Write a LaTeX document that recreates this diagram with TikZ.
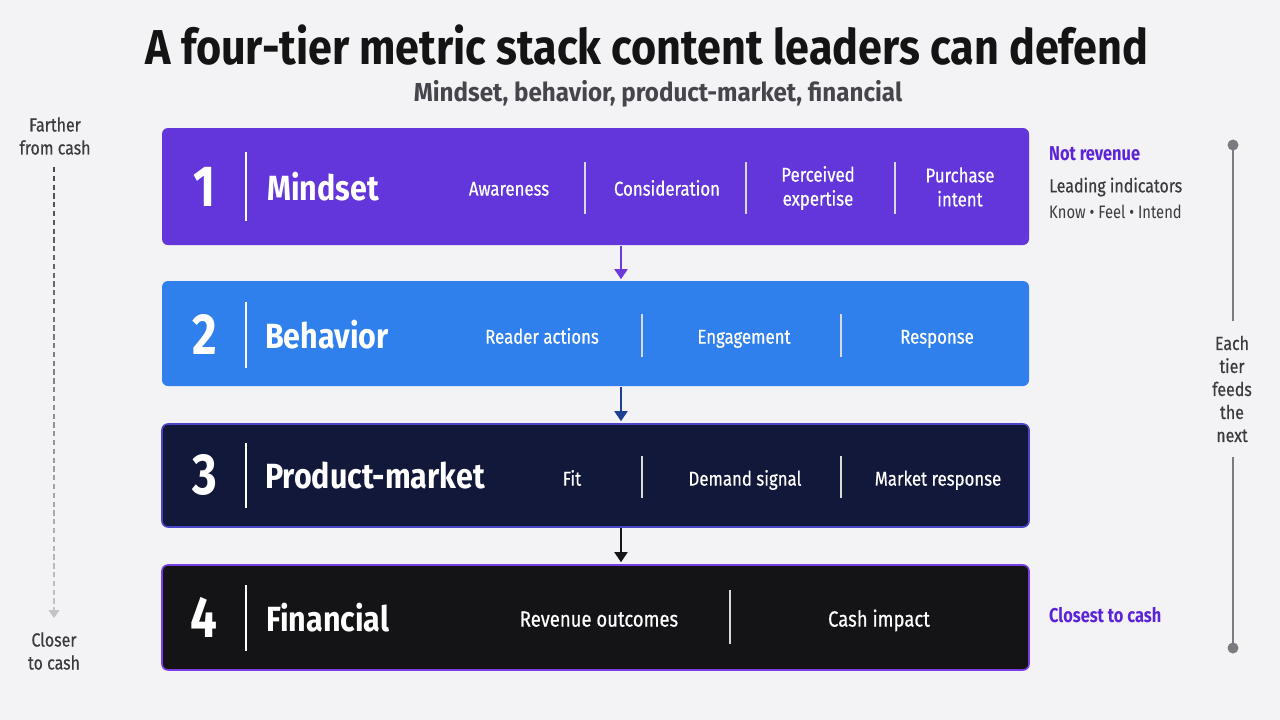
\documentclass[tikz,border=0pt]{standalone}
\usepackage{fontspec}
\setmainfont{Fira Sans}[FakeStretch=0.82]
\newfontfamily\titlefont{Fira Sans}[FakeStretch=0.88]
\newfontfamily\subfont{Fira Sans}[FakeStretch=0.93]
\newfontfamily\namefont{Fira Sans}[FakeStretch=0.87]
\newfontfamily\medfont{Fira Sans}[FakeStretch=0.84, FakeBold=0.5]
\usetikzlibrary{arrows.meta,calc}
\definecolor{bg}{HTML}{F3F3F6}
\definecolor{purp}{HTML}{6236DA}
\definecolor{blu}{HTML}{2F7FEC}
\definecolor{navy}{HTML}{12183A}
\definecolor{navyb}{HTML}{4A44C8}
\definecolor{blk}{HTML}{141416}
\definecolor{blkb}{HTML}{7A3EE6}
\definecolor{arrA}{HTML}{6B3BDC}
\definecolor{arrB}{HTML}{1E3F94}
\definecolor{arrC}{HTML}{15151A}
\definecolor{accent}{HTML}{5B24D8}
\definecolor{txt}{HTML}{3A3A3F}
\definecolor{subt}{HTML}{45454B}
\definecolor{tl}{HTML}{7A7A80}
\definecolor{dashdark}{HTML}{48484D}
\definecolor{dashlight}{HTML}{C4C4C8}
\tikzset{
  tier/.style={rounded corners=6pt, minimum width=867pt, inner sep=0pt, line width=1.6pt},
  num/.style={text=white, font=\bfseries\fontsize{58}{58}\selectfont, inner sep=0pt},
  tname/.style={text=white, font=\namefont\bfseries\fontsize{35}{35}\selectfont, anchor=west, inner sep=0pt},
  item/.style={text=white, font=\medfont\fontsize{20}{24}\selectfont, align=center, inner sep=0pt},
  sitem/.style={item, anchor=mid},
  bigdiv/.style={draw=white, line width=1.4pt},
  smalldiv/.style={draw=white!85!black, line width=1.3pt},
  flow/.style={line width=1.8pt, -{Triangle[length=10pt,width=13pt]}},
  side/.style={font=\medfont\fontsize{19}{22}\selectfont, text=txt, anchor=west, inner sep=0pt},
  sideacc/.style={font=\bfseries\fontsize{20}{22}\selectfont, text=accent, anchor=west, inner sep=0pt},
  cashlab/.style={font=\medfont\fontsize{19}{23}\selectfont, text=txt, align=center, inner sep=0pt},
  tldot/.style={circle, fill=tl, minimum size=11pt, inner sep=0pt},
}
\begin{document}
\begin{tikzpicture}[x=1pt,y=-1pt]
\fill[bg] (0,0) rectangle (1280,720);
\useasboundingbox (0,0) rectangle (1280,720);

% titles
\node[font=\titlefont\bfseries\fontsize{49}{49}\selectfont, text=black!92] (title) at (647,45) {A four-tier metric stack content leaders can defend};
\node[font=\subfont\bfseries\fontsize{26}{26}\selectfont, text=subt] (sub) at (658,94) {Mindset, behavior, product-market, financial};

% tiers
\node[tier, fill=purp, minimum height=117pt] (t1) at (595.5,186.5) {};
\node[tier, fill=blu, minimum height=105pt] (t2) at (595.5,333.5) {};
\node[tier, fill=navy, draw=navyb, minimum height=103pt] (t3) at (595.5,475.5) {};
\node[tier, fill=blk, draw=blkb, minimum height=105pt] (t4) at (595.5,617.5) {};

% tier 1
\node[num] (n1) at (205,187) {1};
\draw[bigdiv] (246,152) -- (246,221);
\node[tname] (m1) at (267,187) {Mindset};
\node[sitem] (a1) at (509,193) {Awareness};
\draw[smalldiv] (585,162) -- (585,214);
\node[sitem] (a2) at (667,193) {Consideration};
\draw[smalldiv] (746,162) -- (746,214);
\node[item] (a3) at (818,188) {Perceived\\expertise};
\draw[smalldiv] (895,162) -- (895,214);
\node[item] (a4) at (960,187) {Purchase\\intent};

% tier 2
\node[num] (n2) at (205,334) {2};
\draw[bigdiv] (246,302) -- (246,368);
\node[tname] (m2) at (265,335) {Behavior};
\node[sitem] (b1) at (542,341) {Reader actions};
\draw[smalldiv] (642,314) -- (642,357);
\node[sitem] (b2) at (744,341) {Engagement};
\draw[smalldiv] (841,314) -- (841,357);
\node[sitem] (b3) at (937,341) {Response};

% tier 3
\node[num] (n3) at (205,475) {3};
\draw[bigdiv] (246,443) -- (246,508);
\node[tname] (m3) at (265,476) {Product-market};
\node[sitem] (c1) at (572,483) {Fit};
\draw[smalldiv] (642,456) -- (642,498);
\node[sitem] (c2) at (745,483) {Demand signal};
\draw[smalldiv] (841,456) -- (841,498);
\node[sitem] (c3) at (938,483) {Market response};

% tier 4
\node[num] (n4) at (204,617) {4};
\draw[bigdiv] (246,585) -- (246,651);
\node[tname] (m4) at (266,618) {Financial};
\node[sitem, font=\medfont\fontsize{22}{24}\selectfont] (d1) at (599,624) {Revenue outcomes};
\draw[smalldiv] (730,590) -- (730,644);
\node[sitem, font=\medfont\fontsize{22}{24}\selectfont] (d2) at (879,624) {Cash impact};

% flow arrows
\draw[flow, arrA] ([xshift=25.5pt]t1.south) -- ([xshift=25.5pt,yshift=1pt]t2.north);
\draw[flow, arrB] ([xshift=25.5pt]t2.south) -- ([xshift=25.5pt,yshift=2pt]t3.north);
\draw[flow, arrC] ([xshift=25.5pt]t3.south) -- ([xshift=25.5pt,yshift=2pt]t4.north);

% right notes
\node[sideacc] (nr) at (1049,154) {Not revenue};
\node[side] (li) at (1049,187) {Leading indicators};
\node[side, font=\fontsize{18}{20}\selectfont] (kfi) at (1049,212) {Know \textbullet{} Feel \textbullet{} Intend};
\node[sideacc] (cc) at (1049,615) {Closest to cash};

% timeline
\node[tldot] (p1) at (1233,145) {};
\node[cashlab, inner sep=15pt] (each) at (1232,389) {Each\\tier\\feeds\\the\\next};
\node[tldot] (p2) at (1233,648) {};
\draw[tl, line width=1.5pt] (p1.center) -- (p1.center |- each.north);
\draw[tl, line width=1.5pt] (p2.center |- each.south) -- (p2.center);

% left scale
\node[cashlab] (far) at (55,136) {Farther\\from cash};
\node[cashlab] (close) at (54,651) {Closer\\to cash};
\coordinate (ftop) at ($(far.south)+(-1,12)$);
\coordinate (fbot) at ($(close.north)+(0,-16)$);
\foreach \i in {0,...,50}{
  \pgfmathsetmacro\pc{100-2*\i}
  \draw[color=dashdark!\pc!dashlight, line width=1.6pt]
     ($(ftop)!{\i/51}!(fbot)$) -- ($(ftop)!{(\i+0.6)/51}!(fbot)$);
}
\draw[dashlight, line width=1pt, -{Triangle[length=8pt,width=11pt]}] ($(ftop)!{50.6/51}!(fbot)$) -- ($(fbot)+(0,2)$);
\end{tikzpicture}
\end{document}
